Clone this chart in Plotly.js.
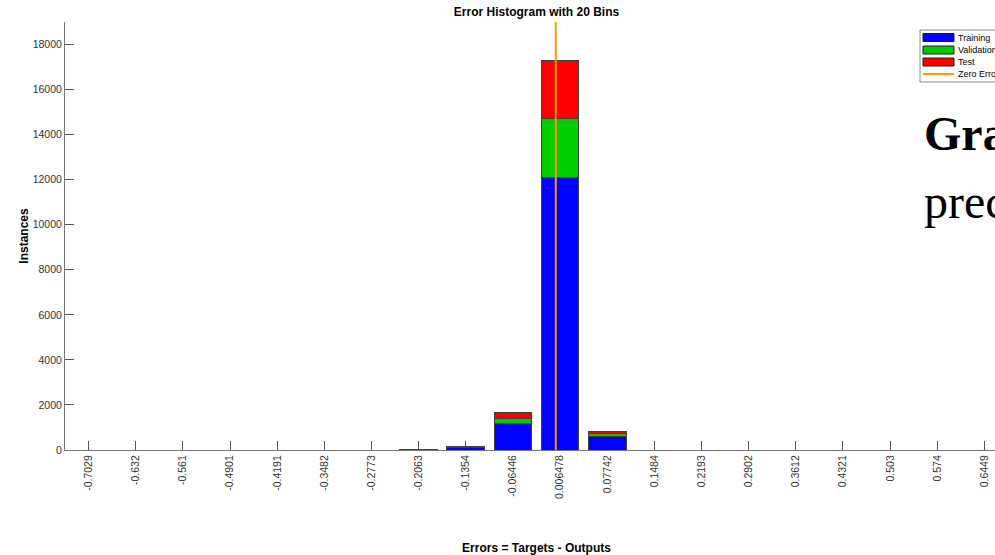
<!DOCTYPE html>
<html>
<head>
<meta charset="utf-8">
<script src="https://cdn.plot.ly/plotly-3.0.1.min.js"></script>
<style>
  html, body { margin: 0; padding: 0; overflow: hidden; background: #fff; }
  #chart { width: 1010px; height: 555px; }
</style>
</head>
<body>
<div id="chart"></div>
<script>
// ---- data ----
var binLabels = ["-0.7029","-0.632","-0.561","-0.4901","-0.4191","-0.3482","-0.2773","-0.2063","-0.1354","-0.06446","0.006478","0.07742","0.1484","0.2193","0.2902","0.3612","0.4321","0.503","0.574","0.6449"];
var binCenters = [-0.7029,-0.632,-0.561,-0.4901,-0.4191,-0.3482,-0.2773,-0.2063,-0.1354,-0.06446,0.006478,0.07742,0.1484,0.2193,0.2902,0.3612,0.4321,0.503,0.574,0.6449];
var training   = [0,0,0,0,0,0,0,22,102,1156,12100,578,0,0,0,0,0,0,0,0];
var validation = [0,0,0,0,0,0,0,4,22,253,2610,133,0,0,0,0,0,0,0,0];
var test       = [0,0,0,0,0,0,0,4,24,267,2590,120,0,0,0,0,0,0,0,0];
var zeroErrorX = [0, 0];
var zeroErrorY = [0, 19000];
var yTicks = [0,2000,4000,6000,8000,10000,12000,14000,16000,18000];
var legendNames = ["Training","Validation","Test","Zero Error"];
var legendColors = ["#0000FF","#00CC00","#FF0000","#FF9900"];

// ---- layout helpers ----
var L = 65, R = 1008, T = 22, B = 450, W = 1010, H = 555;
function px(x){ return (x - L) / (R - L); }
function py(y){ return (B - y) / (B - T); }

var barLine = {color: '#404040', width: 1};
var traces = [
  {type:'bar', name:'Training', x:binCenters, y:training, marker:{color:legendColors[0], line:barLine}},
  {type:'bar', name:'Validation', x:binCenters, y:validation, marker:{color:legendColors[1], line:barLine}},
  {type:'bar', name:'Test', x:binCenters, y:test, marker:{color:legendColors[2], line:barLine}},
  {type:'scatter', mode:'lines', name:'Zero Error', x:zeroErrorX, y:zeroErrorY, line:{color:legendColors[3], width:2}, cliponaxis:false}
];

var binW = binCenters[1] - binCenters[0];
var shapes = [];
var annotations = [];

// manual legend (box partly clipped at right edge, like reference)
shapes.push({type:'rect', xref:'paper', yref:'paper', x0:px(920), x1:px(1006), y0:py(82), y1:py(30),
  line:{color:'#8c8c8c', width:1}, fillcolor:'#ffffff', layer:'above'});
var rowY = [37.5, 50, 62, 74];
for (var i = 0; i < 3; i++) {
  shapes.push({type:'rect', xref:'paper', yref:'paper', x0:px(923), x1:px(954), y0:py(rowY[i]+4), y1:py(rowY[i]-4),
    line:{color:'#202020', width:1}, fillcolor:legendColors[i], layer:'above'});
}
shapes.push({type:'line', xref:'paper', yref:'paper', x0:px(923), x1:px(954), y0:py(rowY[3]), y1:py(rowY[3]),
  line:{color:legendColors[3], width:2}, layer:'above'});
for (var j = 0; j < 4; j++) {
  annotations.push({xref:'paper', yref:'paper', x:px(956), y:py(rowY[j]), xanchor:'left', yanchor:'middle',
    text:legendNames[j], showarrow:false, font:{family:'Arial, Liberation Sans, sans-serif', size:9, color:'#000'}});
}
// overlapping document text at right
annotations.push({xref:'paper', yref:'paper', x:px(922), y:py(133), xanchor:'left', yanchor:'middle',
  text:'<b>Gra</b>', showarrow:false, font:{family:'Times New Roman, Liberation Serif, serif', size:48, color:'#000'}});
annotations.push({xref:'paper', yref:'paper', x:px(922), y:py(201), xanchor:'left', yanchor:'middle',
  text:'prec', showarrow:false, font:{family:'Times New Roman, Liberation Serif, serif', size:48, color:'#000'}});

var tickFont = {family:'Arial, Liberation Sans, sans-serif', size:10.5, color:'#333'};
var layout = {
  width: W, height: H,
  margin: {l:L, r:W-R, t:T, b:H-B},
  paper_bgcolor:'#fff', plot_bgcolor:'#fff',
  barmode:'stack', bargap:0.2,
  showlegend:false, hovermode:false,
  title: {text:'<b>Error Histogram with 20 Bins</b>', x:(L+R)/2/W, xanchor:'center', y:1-12/H, yanchor:'middle',
    font:{family:'Arial, Liberation Sans, sans-serif', size:12, color:'#000'}},
  xaxis: {range:[binCenters[0]-binW/2, binCenters[binCenters.length-1]+binW/2], tickmode:'array',
    tickvals:binCenters, ticktext:binLabels, tickangle:-90, ticks:'inside', ticklen:9, tickcolor:'#555',
    showline:true, linecolor:'#777', linewidth:1, showgrid:false, zeroline:false, layer:'below traces',
    tickfont:tickFont, automargin:false,
    title:{text:'<b>Errors = Targets - Outputs</b>', standoff:48, font:{family:'Arial, Liberation Sans, sans-serif', size:12, color:'#000'}}},
  yaxis: {range:[0,19000], tickmode:'array', tickvals:yTicks, ticktext:yTicks.map(String), ticks:'inside', ticklen:9, tickcolor:'#555',
    showline:true, linecolor:'#777', linewidth:1, showgrid:false, zeroline:false,
    tickfont:tickFont, automargin:false,
    title:{text:'<b>Instances</b>', font:{family:'Arial, Liberation Sans, sans-serif', size:12, color:'#000'}}},
  shapes: shapes,
  annotations: annotations
};

Plotly.newPlot('chart', traces, layout, {displayModeBar:false, staticPlot:true});
</script>
</body>
</html>
